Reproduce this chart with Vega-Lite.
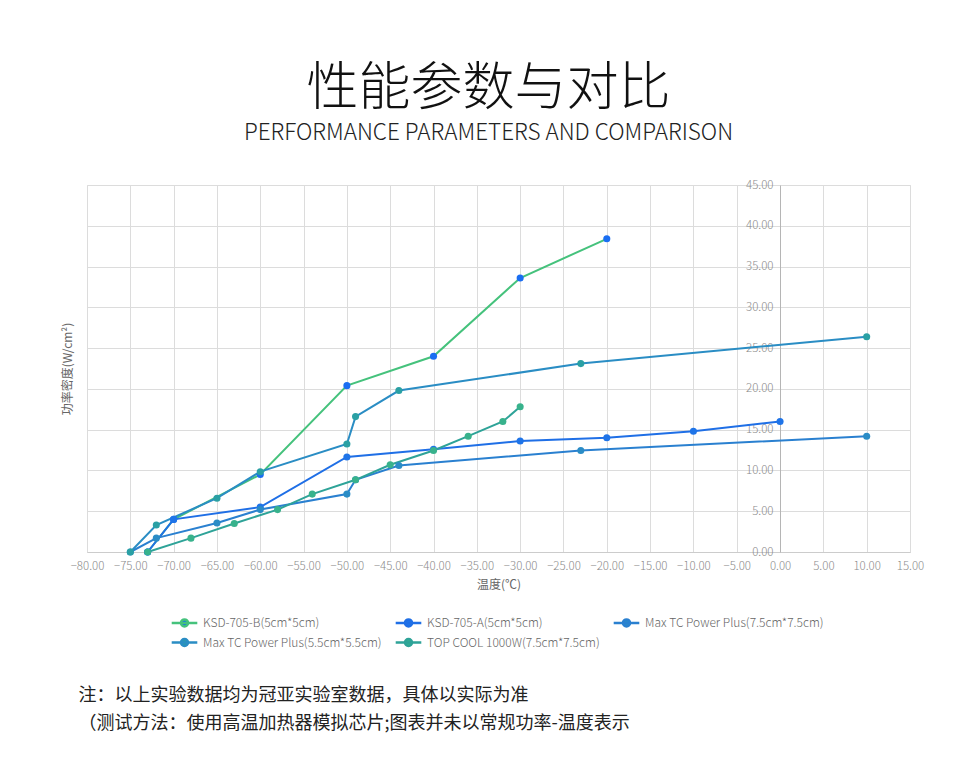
{
  "$schema": "https://vega.github.io/schema/vega-lite/v6.json",
  "background": "white",
  "padding": {"left": 60, "top": 62, "right": 10, "bottom": 10},
  "title": {
    "text": ["注：以上实验数据均为冠亚实验室数据，具体以实际为准", "（测试方法：使用高温加热器模拟芯片;图表并未以常规功率-温度表示"],
    "orient": "bottom",
    "anchor": "start",
    "font": "Noto Sans CJK SC",
    "fontSize": 18,
    "fontWeight": "normal",
    "color": "#222222",
    "lineHeight": 28,
    "offset": 35,
    "dx": 18
  },
  "vconcat": [
    {
      "width": 823,
      "height": 367,
      "title": {
        "text": "性能参数与对比",
        "subtitle": "PERFORMANCE PARAMETERS AND COMPARISON",
        "anchor": "middle",
        "font": "Noto Sans CJK SC",
        "fontSize": 52,
        "fontWeight": 300,
        "color": "#111111",
        "subtitleFont": "Noto Sans CJK SC",
        "subtitleFontSize": 22.5,
        "subtitleFontWeight": 300,
        "subtitleColor": "#222222",
        "subtitlePadding": 6,
        "offset": 34,
        "dx": -10
      },
      "data": {
        "values": [
          {"series": "KSD-705-B(5cm*5cm)", "t": -73, "p": 0},
          {"series": "KSD-705-B(5cm*5cm)", "t": -70, "p": 4.0},
          {"series": "KSD-705-B(5cm*5cm)", "t": -60, "p": 9.5},
          {"series": "KSD-705-B(5cm*5cm)", "t": -50, "p": 20.4},
          {"series": "KSD-705-B(5cm*5cm)", "t": -40, "p": 24.0},
          {"series": "KSD-705-B(5cm*5cm)", "t": -30, "p": 33.6},
          {"series": "KSD-705-B(5cm*5cm)", "t": -20, "p": 38.4},
          {"series": "KSD-705-A(5cm*5cm)", "t": -73, "p": 0},
          {"series": "KSD-705-A(5cm*5cm)", "t": -70, "p": 4.0},
          {"series": "KSD-705-A(5cm*5cm)", "t": -60, "p": 5.5},
          {"series": "KSD-705-A(5cm*5cm)", "t": -50, "p": 11.65},
          {"series": "KSD-705-A(5cm*5cm)", "t": -40, "p": 12.6},
          {"series": "KSD-705-A(5cm*5cm)", "t": -30, "p": 13.6},
          {"series": "KSD-705-A(5cm*5cm)", "t": -20, "p": 14.0},
          {"series": "KSD-705-A(5cm*5cm)", "t": -10, "p": 14.8},
          {"series": "KSD-705-A(5cm*5cm)", "t": 0, "p": 16.0},
          {"series": "Max TC Power Plus(7.5cm*7.5cm)", "t": -75, "p": 0},
          {"series": "Max TC Power Plus(7.5cm*7.5cm)", "t": -72, "p": 1.7},
          {"series": "Max TC Power Plus(7.5cm*7.5cm)", "t": -65, "p": 3.55},
          {"series": "Max TC Power Plus(7.5cm*7.5cm)", "t": -60, "p": 5.2},
          {"series": "Max TC Power Plus(7.5cm*7.5cm)", "t": -50, "p": 7.1},
          {"series": "Max TC Power Plus(7.5cm*7.5cm)", "t": -49, "p": 8.85},
          {"series": "Max TC Power Plus(7.5cm*7.5cm)", "t": -44, "p": 10.6},
          {"series": "Max TC Power Plus(7.5cm*7.5cm)", "t": -23, "p": 12.45},
          {"series": "Max TC Power Plus(7.5cm*7.5cm)", "t": 10, "p": 14.2},
          {"series": "Max TC Power Plus(5.5cm*5.5cm)", "t": -75, "p": 0},
          {"series": "Max TC Power Plus(5.5cm*5.5cm)", "t": -72, "p": 3.3},
          {"series": "Max TC Power Plus(5.5cm*5.5cm)", "t": -65, "p": 6.6},
          {"series": "Max TC Power Plus(5.5cm*5.5cm)", "t": -60, "p": 9.85},
          {"series": "Max TC Power Plus(5.5cm*5.5cm)", "t": -50, "p": 13.25},
          {"series": "Max TC Power Plus(5.5cm*5.5cm)", "t": -49, "p": 16.6},
          {"series": "Max TC Power Plus(5.5cm*5.5cm)", "t": -44, "p": 19.8},
          {"series": "Max TC Power Plus(5.5cm*5.5cm)", "t": -23, "p": 23.1},
          {"series": "Max TC Power Plus(5.5cm*5.5cm)", "t": 10, "p": 26.4},
          {"series": "TOP COOL 1000W(7.5cm*7.5cm)", "t": -73, "p": 0},
          {"series": "TOP COOL 1000W(7.5cm*7.5cm)", "t": -68, "p": 1.7},
          {"series": "TOP COOL 1000W(7.5cm*7.5cm)", "t": -63, "p": 3.5},
          {"series": "TOP COOL 1000W(7.5cm*7.5cm)", "t": -58, "p": 5.2},
          {"series": "TOP COOL 1000W(7.5cm*7.5cm)", "t": -54, "p": 7.1},
          {"series": "TOP COOL 1000W(7.5cm*7.5cm)", "t": -49, "p": 8.85},
          {"series": "TOP COOL 1000W(7.5cm*7.5cm)", "t": -45, "p": 10.7},
          {"series": "TOP COOL 1000W(7.5cm*7.5cm)", "t": -40, "p": 12.45},
          {"series": "TOP COOL 1000W(7.5cm*7.5cm)", "t": -36, "p": 14.2},
          {"series": "TOP COOL 1000W(7.5cm*7.5cm)", "t": -32, "p": 16.0},
          {"series": "TOP COOL 1000W(7.5cm*7.5cm)", "t": -30, "p": 17.8}
        ]
      },
      "encoding": {
        "x": {
          "field": "t",
          "type": "quantitative",
          "title": "温度(℃)",
          "scale": {"domain": [-80, 15], "nice": false, "zero": false},
          "axis": {
            "values": [-80, -75, -70, -65, -60, -55, -50, -45, -40, -35, -30, -25, -20, -15, -10, -5, 0, 5, 10, 15],
            "format": ".2f",
            "ticks": false,
            "labelOverlap": false,
            "labelFlush": false,
            "labelPadding": 8,
            "titlePadding": 8,
            "domainColor": "#cccccc"
          }
        },
        "y": {
          "field": "p",
          "type": "quantitative",
          "title": "功率密度(W/cm²)",
          "scale": {"domain": [0, 45], "nice": false},
          "axis": {
            "values": [0, 5, 10, 15, 20, 25, 30, 35, 40, 45],
            "format": ".2f",
            "orient": "left",
            "offset": -693,
            "ticks": false,
            "labelOverlap": false,
            "labelPadding": 7,
            "domainColor": "#b5b5b5",
            "titleX": -706,
            "titleY": 183.5
          }
        }
      },
      "layer": [
        {
          "mark": {"type": "line", "strokeWidth": 2},
          "encoding": {
            "stroke": {
              "field": "series",
              "type": "nominal",
              "title": null,
              "sort": null,
              "scale": {
                "domain": ["KSD-705-B(5cm*5cm)", "KSD-705-A(5cm*5cm)", "Max TC Power Plus(7.5cm*7.5cm)", "Max TC Power Plus(5.5cm*5.5cm)", "TOP COOL 1000W(7.5cm*7.5cm)"],
                "range": ["#45c27c", "#1f6fe6", "#2a80d0", "#2a8dc4", "#2ea398"]
              },
              "legend": {
                "orient": "none",
                "legendX": 88,
                "legendY": 428,
                "encoding": {
                  "symbols": {
                    "update": {
                      "fill": {"signal": "{'KSD-705-B(5cm*5cm)': '#1a6ef2', 'KSD-705-A(5cm*5cm)': '#1f74e8', 'Max TC Power Plus(7.5cm*7.5cm)': '#2a8cc6', 'Max TC Power Plus(5.5cm*5.5cm)': '#2aa0a4', 'TOP COOL 1000W(7.5cm*7.5cm)': '#38b28c'}[datum.value]"},
                      "fillOpacity": {"value": 1}
                    }
                  }
                }
              }
            }
          }
        },
        {
          "mark": {"type": "point", "filled": true, "size": 50, "opacity": 1},
          "encoding": {
            "fill": {
              "field": "series",
              "type": "nominal",
              "title": null,
              "sort": null,
              "legend": null,
              "scale": {
                "domain": ["KSD-705-B(5cm*5cm)", "KSD-705-A(5cm*5cm)", "Max TC Power Plus(7.5cm*7.5cm)", "Max TC Power Plus(5.5cm*5.5cm)", "TOP COOL 1000W(7.5cm*7.5cm)"],
                "range": ["#1a6ef2", "#1f74e8", "#2a8cc6", "#2aa0a4", "#38b28c"]
              }
            }
          }
        }
      ]
    }
  ],
  "config": {
    "font": "Noto Sans CJK SC",
    "view": {"stroke": "#dcdcdc"},
    "axis": {
      "gridColor": "#dcdcdc",
      "labelFont": "Noto Sans CJK SC",
      "labelFontSize": 11.5,
      "labelFontWeight": 300,
      "labelColor": "#8a8a8a",
      "titleFont": "Noto Sans CJK SC",
      "titleFontSize": 12,
      "titleFontWeight": "normal",
      "titleColor": "#666666"
    },
    "legend": {
      "direction": "horizontal",
      "columns": 3,
      "columnPadding": 8,
      "rowPadding": 1,
      "symbolType": "M-1.6,0H1.6M0.44,0A0.44,0.44,0,1,1,-0.44,0A0.44,0.44,0,1,1,0.44,0Z",
      "symbolSize": 256,
      "symbolStrokeWidth": 2.5,
      "labelFont": "Noto Sans CJK SC",
      "labelFontSize": 12,
      "labelFontWeight": 300,
      "labelColor": "#666666",
      "labelOffset": 9,
      "labelLimit": 0
    }
  }
}
